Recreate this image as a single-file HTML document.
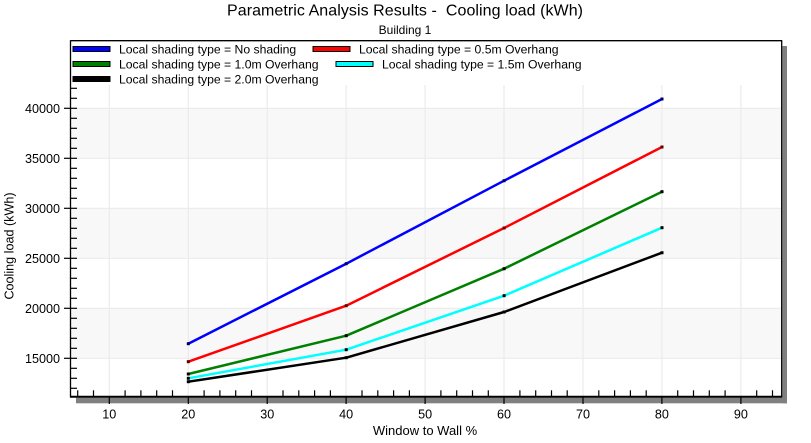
<!DOCTYPE html>
<html>
<head>
<meta charset="utf-8">
<style>
  html,body{margin:0;padding:0;background:#fff;}
  svg{display:block;}
  text{font-family:"Liberation Sans",Arial,sans-serif;fill:#000;}
</style>
</head>
<body>
<svg width="811" height="443" viewBox="0 0 811 443" xmlns="http://www.w3.org/2000/svg">
  <rect x="0" y="0" width="811" height="443" fill="#fff"/>
  <!-- Title -->
  <text x="405" y="15.5" font-size="16" text-anchor="middle" textLength="356" lengthAdjust="spacing">Parametric Analysis Results - &#160;Cooling load (kWh)</text>
  <text x="405" y="34" font-size="12" text-anchor="middle">Building 1</text>

  <!-- shadow -->
  <rect x="782.5" y="46" width="4.5" height="357.3" fill="#808080"/>
  <rect x="76" y="397.7" width="711" height="5.6" fill="#808080"/>

  <!-- plot background -->
  <rect x="70.5" y="40.7" width="711.2" height="356" fill="#fff"/>
  <!-- bands -->
  <rect x="71" y="108.3" width="710.5" height="50" fill="#f8f8f8"/>
  <rect x="71" y="208.3" width="710.5" height="50" fill="#f8f8f8"/>
  <rect x="71" y="308.3" width="710.5" height="50" fill="#f8f8f8"/>

  <!-- grid -->
  <g stroke="#ebebeb" stroke-width="1.2">
    <line x1="71" y1="108.3" x2="781.5" y2="108.3"/>
    <line x1="71" y1="158.3" x2="781.5" y2="158.3"/>
    <line x1="71" y1="208.3" x2="781.5" y2="208.3"/>
    <line x1="71" y1="258.3" x2="781.5" y2="258.3"/>
    <line x1="71" y1="308.3" x2="781.5" y2="308.3"/>
    <line x1="71" y1="358.3" x2="781.5" y2="358.3"/>
    <line x1="109.3" y1="85" x2="109.3" y2="396"/>
    <line x1="188.3" y1="85" x2="188.3" y2="396"/>
    <line x1="267.2" y1="85" x2="267.2" y2="396"/>
    <line x1="346.1" y1="85" x2="346.1" y2="396"/>
    <line x1="425.1" y1="85" x2="425.1" y2="396"/>
    <line x1="504.0" y1="85" x2="504.0" y2="396"/>
    <line x1="583.0" y1="85" x2="583.0" y2="396"/>
    <line x1="661.9" y1="85" x2="661.9" y2="396"/>
    <line x1="740.9" y1="85" x2="740.9" y2="396"/>
  </g>

  <!-- series -->
  <g fill="none" stroke-width="2.5" stroke-linejoin="round">
    <polyline stroke="#0000ff" points="188.3,343.7 346.2,263.7 504.1,180.7 662,99"/>
    <polyline stroke="#ff0000" points="188.3,361.7 346.2,305.7 504.1,228 662,147"/>
    <polyline stroke="#008000" points="188.3,374 346.2,335.7 504.1,268.7 662,191.7"/>
    <polyline stroke="#00ffff" points="188.3,378.3 346.2,349.7 504.1,295.7 662,227.7"/>
    <polyline stroke="#000000" points="188.3,381.7 346.2,357.7 504.1,312 662,252.7"/>
  </g>
  <g fill="#000">
    <rect x="186.8" y="342.2" width="3" height="3" fill="#000060"/>
    <rect x="344.7" y="262.2" width="3" height="3" fill="#000060"/>
    <rect x="502.6" y="179.2" width="3" height="3" fill="#000060"/>
    <rect x="660.5" y="97.5" width="3" height="3" fill="#000060"/>
    <rect x="186.8" y="360.2" width="3" height="3" fill="#600000"/>
    <rect x="344.7" y="304.2" width="3" height="3" fill="#600000"/>
    <rect x="502.6" y="226.5" width="3" height="3" fill="#600000"/>
    <rect x="660.5" y="145.5" width="3" height="3" fill="#600000"/>
    <rect x="186.8" y="372.5" width="3" height="3"/>
    <rect x="344.7" y="334.2" width="3" height="3"/>
    <rect x="502.6" y="267.2" width="3" height="3"/>
    <rect x="660.5" y="190.2" width="3" height="3"/>
    <rect x="186.8" y="376.8" width="3" height="3"/>
    <rect x="344.7" y="348.2" width="3" height="3"/>
    <rect x="502.6" y="294.2" width="3" height="3"/>
    <rect x="660.5" y="226.2" width="3" height="3"/>
    <rect x="186.8" y="380.2" width="3" height="3"/>
    <rect x="344.7" y="356.2" width="3" height="3"/>
    <rect x="502.6" y="310.5" width="3" height="3"/>
    <rect x="660.5" y="251.2" width="3" height="3"/>
  </g>

  <!-- legend -->
  <rect x="71" y="41.2" width="710.5" height="43.5" fill="#fff"/>
  <g stroke="#000" stroke-width="1">
    <rect x="73" y="46.5" width="37" height="5" fill="#0000ff"/>
    <rect x="313" y="46.5" width="37" height="5" fill="#ff0000"/>
    <rect x="73" y="61.5" width="37" height="5" fill="#008000"/>
    <rect x="336" y="61.5" width="37" height="5" fill="#00ffff"/>
    <rect x="73" y="76.5" width="37" height="5" fill="#000000"/>
  </g>
  <g font-size="12.2">
    <text x="119" y="53.3">Local shading type = No shading</text>
    <text x="359" y="53.3">Local shading type = 0.5m Overhang</text>
    <text x="119" y="68.3">Local shading type = 1.0m Overhang</text>
    <text x="382" y="68.3">Local shading type = 1.5m Overhang</text>
    <text x="119" y="83.3">Local shading type = 2.0m Overhang</text>
  </g>

  <!-- frame -->
  <g stroke="#000" fill="none">
    <line x1="70.5" y1="40.7" x2="782" y2="40.7" stroke-width="1.3"/>
    <line x1="781.7" y1="40.2" x2="781.7" y2="397" stroke-width="1.3"/>
    <line x1="70.5" y1="40.2" x2="70.5" y2="397.5" stroke-width="1.3"/>
    <line x1="70" y1="396.8" x2="782.3" y2="396.8" stroke-width="2"/>
  </g>

  <!-- y ticks -->
  <g stroke="#000" stroke-width="1.2">
    <line x1="70" y1="88.3" x2="77" y2="88.3"/>
    <line x1="70" y1="98.3" x2="77" y2="98.3"/>
    <line x1="64" y1="108.3" x2="77" y2="108.3"/>
    <line x1="70" y1="118.3" x2="77" y2="118.3"/>
    <line x1="70" y1="128.3" x2="77" y2="128.3"/>
    <line x1="70" y1="138.3" x2="77" y2="138.3"/>
    <line x1="70" y1="148.3" x2="77" y2="148.3"/>
    <line x1="64" y1="158.3" x2="77" y2="158.3"/>
    <line x1="70" y1="168.3" x2="77" y2="168.3"/>
    <line x1="70" y1="178.3" x2="77" y2="178.3"/>
    <line x1="70" y1="188.3" x2="77" y2="188.3"/>
    <line x1="70" y1="198.3" x2="77" y2="198.3"/>
    <line x1="64" y1="208.3" x2="77" y2="208.3"/>
    <line x1="70" y1="218.3" x2="77" y2="218.3"/>
    <line x1="70" y1="228.3" x2="77" y2="228.3"/>
    <line x1="70" y1="238.3" x2="77" y2="238.3"/>
    <line x1="70" y1="248.3" x2="77" y2="248.3"/>
    <line x1="64" y1="258.3" x2="77" y2="258.3"/>
    <line x1="70" y1="268.3" x2="77" y2="268.3"/>
    <line x1="70" y1="278.3" x2="77" y2="278.3"/>
    <line x1="70" y1="288.3" x2="77" y2="288.3"/>
    <line x1="70" y1="298.3" x2="77" y2="298.3"/>
    <line x1="64" y1="308.3" x2="77" y2="308.3"/>
    <line x1="70" y1="318.3" x2="77" y2="318.3"/>
    <line x1="70" y1="328.3" x2="77" y2="328.3"/>
    <line x1="70" y1="338.3" x2="77" y2="338.3"/>
    <line x1="70" y1="348.3" x2="77" y2="348.3"/>
    <line x1="64" y1="358.3" x2="77" y2="358.3"/>
    <line x1="70" y1="368.3" x2="77" y2="368.3"/>
    <line x1="70" y1="378.3" x2="77" y2="378.3"/>
    <line x1="70" y1="388.3" x2="77" y2="388.3"/>
  </g>
  <g font-size="12.6" text-anchor="end">
    <text x="60" y="112.8">40000</text>
    <text x="60" y="162.8">35000</text>
    <text x="60" y="212.8">30000</text>
    <text x="60" y="262.8">25000</text>
    <text x="60" y="312.8">20000</text>
    <text x="60" y="362.8">15000</text>
  </g>

  <!-- x ticks -->
  <g stroke="#000" stroke-width="1.2">
    <line x1="77.7" y1="390.3" x2="77.7" y2="397"/>
    <line x1="93.5" y1="390.3" x2="93.5" y2="397"/>
    <line x1="125.1" y1="390.3" x2="125.1" y2="397"/>
    <line x1="140.9" y1="390.3" x2="140.9" y2="397"/>
    <line x1="156.7" y1="390.3" x2="156.7" y2="397"/>
    <line x1="172.5" y1="390.3" x2="172.5" y2="397"/>
    <line x1="204.1" y1="390.3" x2="204.1" y2="397"/>
    <line x1="219.9" y1="390.3" x2="219.9" y2="397"/>
    <line x1="235.7" y1="390.3" x2="235.7" y2="397"/>
    <line x1="251.5" y1="390.3" x2="251.5" y2="397"/>
    <line x1="283.0" y1="390.3" x2="283.0" y2="397"/>
    <line x1="298.8" y1="390.3" x2="298.8" y2="397"/>
    <line x1="314.6" y1="390.3" x2="314.6" y2="397"/>
    <line x1="330.4" y1="390.3" x2="330.4" y2="397"/>
    <line x1="362.0" y1="390.3" x2="362.0" y2="397"/>
    <line x1="377.8" y1="390.3" x2="377.8" y2="397"/>
    <line x1="393.6" y1="390.3" x2="393.6" y2="397"/>
    <line x1="409.4" y1="390.3" x2="409.4" y2="397"/>
    <line x1="440.9" y1="390.3" x2="440.9" y2="397"/>
    <line x1="456.7" y1="390.3" x2="456.7" y2="397"/>
    <line x1="472.5" y1="390.3" x2="472.5" y2="397"/>
    <line x1="488.3" y1="390.3" x2="488.3" y2="397"/>
    <line x1="519.9" y1="390.3" x2="519.9" y2="397"/>
    <line x1="535.7" y1="390.3" x2="535.7" y2="397"/>
    <line x1="551.5" y1="390.3" x2="551.5" y2="397"/>
    <line x1="567.2" y1="390.3" x2="567.2" y2="397"/>
    <line x1="598.8" y1="390.3" x2="598.8" y2="397"/>
    <line x1="614.6" y1="390.3" x2="614.6" y2="397"/>
    <line x1="630.4" y1="390.3" x2="630.4" y2="397"/>
    <line x1="646.2" y1="390.3" x2="646.2" y2="397"/>
    <line x1="677.7" y1="390.3" x2="677.7" y2="397"/>
    <line x1="693.5" y1="390.3" x2="693.5" y2="397"/>
    <line x1="709.3" y1="390.3" x2="709.3" y2="397"/>
    <line x1="725.1" y1="390.3" x2="725.1" y2="397"/>
    <line x1="756.7" y1="390.3" x2="756.7" y2="397"/>
    <line x1="772.5" y1="390.3" x2="772.5" y2="397"/>
    <line x1="109.3" y1="397" x2="109.3" y2="404"/>
    <line x1="188.3" y1="397" x2="188.3" y2="404"/>
    <line x1="267.2" y1="397" x2="267.2" y2="404"/>
    <line x1="346.1" y1="397" x2="346.1" y2="404"/>
    <line x1="425.1" y1="397" x2="425.1" y2="404"/>
    <line x1="504.0" y1="397" x2="504.0" y2="404"/>
    <line x1="583.0" y1="397" x2="583.0" y2="404"/>
    <line x1="661.9" y1="397" x2="661.9" y2="404"/>
    <line x1="740.9" y1="397" x2="740.9" y2="404"/>
  </g>
  <g font-size="12.6" text-anchor="middle">
    <text x="109.3" y="418.5">10</text>
    <text x="188.3" y="418.5">20</text>
    <text x="267.2" y="418.5">30</text>
    <text x="346.1" y="418.5">40</text>
    <text x="425.1" y="418.5">50</text>
    <text x="504.0" y="418.5">60</text>
    <text x="583.0" y="418.5">70</text>
    <text x="661.9" y="418.5">80</text>
    <text x="740.9" y="418.5">90</text>
  </g>

  <!-- axis titles -->
  <text x="425" y="435" font-size="13" text-anchor="middle">Window to Wall %</text>
  <text transform="translate(13.5,246) rotate(-90)" x="0" y="0" font-size="12.6" text-anchor="middle">Cooling load (kWh)</text>
</svg>
</body>
</html>
